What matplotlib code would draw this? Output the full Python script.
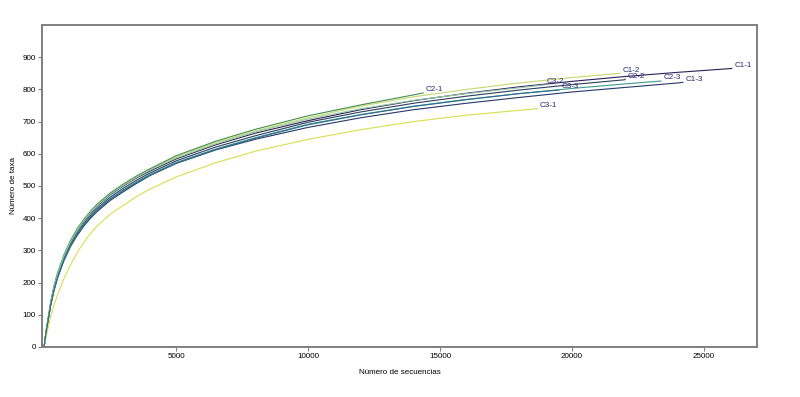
import numpy as np
import matplotlib
matplotlib.use("Agg")
from matplotlib import pyplot as plt

plt.rcParams['font.family'] = ['Liberation Sans', 'DejaVu Sans']

# shared sampling depths (number of sequences)
X_GRID = [0, 50, 100, 175, 250, 375, 500, 750, 1000, 1250, 1500, 1750, 2000, 2500,
          3000, 3500, 4000, 5000, 6500, 8000, 10000, 12000, 14000, 16000, 18000,
          20000, 22000, 24000]

SAMPLES = ["C1-1", "C1-2", "C1-3", "C2-1", "C2-2", "C2-3", "C3-1", "C3-2", "C3-3"]

# final depth of each sample
END_X = {"C1-1": 26050, "C1-2": 21820, "C1-3": 24200, "C2-1": 14360, "C2-2": 22010,
         "C2-3": 23370, "C3-1": 18680, "C3-2": 18950, "C3-3": 19500}

# observed taxa at X_GRID points (up to end), last value = taxa at END_X
c1_1 = [0, 32, 60, 98, 136, 185, 222, 280, 325, 360, 390, 415, 437, 472, 500, 525, 546, 584, 628, 664,
        703, 737, 765, 788, 808, 825, 840, 853, 865]
c1_2 = [0, 33, 61, 99, 138, 188, 226, 283, 328, 364, 394, 419, 441, 476, 504, 529, 551, 590, 635, 671,
        712, 748, 777, 800, 820, 837, 850]
c1_3 = [0, 31, 58, 93, 130, 175, 212, 268, 312, 346, 375, 399, 420, 455, 482, 508, 532, 570, 612, 645,
        682, 712, 737, 757, 775, 792, 806, 820, 822]
c2_1 = [0, 33, 62, 100, 140, 190, 228, 286, 331, 367, 396, 421, 443, 478, 506, 531, 553, 594, 639, 676,
        718, 752, 783, 789]
c2_2 = [0, 32, 59, 95, 133, 180, 217, 274, 318, 353, 383, 408, 430, 465, 493, 518, 540, 578, 621, 656,
        698, 730, 757, 779, 798, 815, 830, 832]
c2_3 = [0, 32, 59, 94, 132, 178, 215, 272, 316, 350, 380, 404, 426, 460, 488, 513, 535, 573, 615, 650,
        692, 722, 748, 769, 787, 803, 817, 826]
c3_1 = [0, 20, 40, 68, 95, 130, 160, 212, 255, 292, 325, 352, 375, 412, 440, 467, 490, 528, 572, 608,
        645, 675, 700, 720, 735, 740]
c3_2 = [0, 33, 61, 99, 137, 187, 224, 282, 327, 362, 392, 417, 439, 474, 502, 527, 549, 587, 631, 668,
        708, 740, 766, 787, 805, 814]
c3_3 = [0, 31, 58, 94, 131, 177, 214, 271, 315, 349, 378, 402, 424, 458, 486, 511, 533, 571, 613, 648,
        690, 721, 747, 768, 787, 798]

TAXA = {"C1-1": c1_1, "C1-2": c1_2, "C1-3": c1_3, "C2-1": c2_1, "C2-2": c2_2,
        "C2-3": c2_3, "C3-1": c3_1, "C3-2": c3_2, "C3-3": c3_3}

COLORS = {"C1-1": "#2a1f55", "C1-2": "#c6d86c", "C1-3": "#26396b", "C2-1": "#3f8f50",
          "C2-2": "#2c3f5d", "C2-3": "#3e9a8c", "C3-1": "#d8de4c", "C3-2": "#93c9a4",
          "C3-3": "#2e6d8e"}

LABEL_COLOR = "#1f2870"
GRAY = "#7f7f7f"
FS = 5.8

fig = plt.figure(figsize=(8, 3.97), dpi=100)
ax = fig.add_axes([0.0525, 0.126, 0.8935, 0.811])

for name in SAMPLES:
    ys = TAXA[name]
    xs = X_GRID[:len(ys) - 1] + [END_X[name]]
    ax.plot(xs, ys, color=COLORS[name], lw=0.8)
    ax.annotate(name, (xs[-1], ys[-1]), xytext=(2, 2.2), textcoords='offset points',
                color=LABEL_COLOR, fontsize=FS, ha='left', va='center')

ax.set_xlim(-80, 27000)
ax.set_ylim(0, 1000)
ax.set_xticks([5000, 10000, 15000, 20000, 25000])
ax.set_yticks(np.arange(0, 1000, 100))
ax.tick_params(direction='out', length=3, width=0.8, color=GRAY, labelsize=FS, pad=1.5)
for s in ax.spines.values():
    s.set_color(GRAY)
    s.set_linewidth(1.4)

ax.set_xlabel("Número de secuencias", fontsize=FS, labelpad=6)
ax.set_ylabel("Número de taxa", fontsize=FS, labelpad=4)

fig.savefig("out.png", dpi=100)
